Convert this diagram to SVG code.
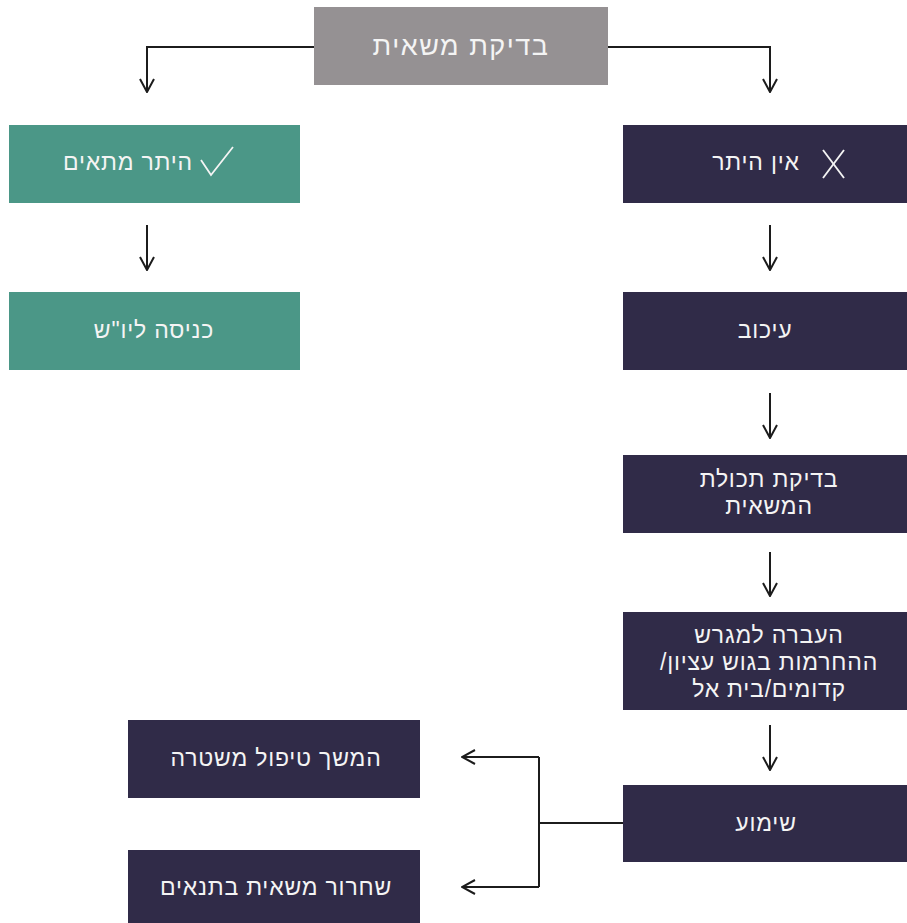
<svg xmlns="http://www.w3.org/2000/svg" width="907" height="923" viewBox="0 0 907 923">
<defs>
<style>
.gray{fill:#959193}
.teal{fill:#4b9787}
.dark{fill:#302b48}
.t{font-family:"Liberation Sans","DejaVu Sans",sans-serif;fill:#f4f4f4;text-anchor:middle;direction:rtl;font-size:23px;letter-spacing:0.8px}
.big{font-size:27px;letter-spacing:1.5px}
.c{fill:none;stroke:#1c1c1c;stroke-width:2}
.icon{fill:none;stroke:#f4f4f4;stroke-width:1.8}
</style>
<marker id="ah" viewBox="0 0 16 16" refX="15" refY="8" markerWidth="16" markerHeight="16" markerUnits="userSpaceOnUse" orient="auto">
<path d="M2,1 L15,8 L2,15" fill="none" stroke="#1c1c1c" stroke-width="2"/>
</marker>
</defs>
<rect width="907" height="923" fill="#ffffff"/>
<g id="connectors">
<polyline class="c" points="314,47 147,47 147,92" marker-end="url(#ah)"/>
<polyline class="c" points="608,47 770,47 770,92" marker-end="url(#ah)"/>
<line class="c" x1="147" y1="225" x2="147" y2="270" marker-end="url(#ah)"/>
<line class="c" x1="770" y1="225" x2="770" y2="270" marker-end="url(#ah)"/>
<line class="c" x1="770" y1="393" x2="770" y2="438" marker-end="url(#ah)"/>
<line class="c" x1="770" y1="552" x2="770" y2="596" marker-end="url(#ah)"/>
<line class="c" x1="770" y1="725" x2="770" y2="770" marker-end="url(#ah)"/>
<line class="c" x1="623" y1="823" x2="539" y2="823"/>
<polyline class="c" points="539,757 539,887"/>
<line class="c" x1="539" y1="757" x2="462" y2="757" marker-end="url(#ah)"/>
<line class="c" x1="539" y1="887" x2="462" y2="887" marker-end="url(#ah)"/>
</g>
<g id="n-check">
<rect class="gray" x="314" y="7" width="294" height="78"/>
<text class="t big" x="461" y="55">בדיקת משאית</text>
</g>
<g id="n-permit">
<rect class="teal" x="9" y="125" width="291" height="78"/>
<text class="t" x="128" y="170">היתר מתאים</text>
<polyline class="icon" points="201,160 211,175 233,147"/>
</g>
<g id="n-enter">
<rect class="teal" x="9" y="292" width="291" height="78"/>
<text class="t" x="154" y="338">כניסה ליו"ש</text>
</g>
<g id="n-nopermit">
<rect class="dark" x="623" y="125" width="284" height="78"/>
<text class="t" x="756" y="170">אין היתר</text>
<line class="icon" x1="823" y1="150" x2="844" y2="178"/>
<line class="icon" x1="844" y1="150" x2="823" y2="178"/>
</g>
<g id="n-delay">
<rect class="dark" x="623" y="292" width="284" height="78"/>
<text class="t" x="765" y="338">עיכוב</text>
</g>
<g id="n-cargo">
<rect class="dark" x="623" y="455" width="284" height="78"/>
<text class="t" x="769" y="487">בדיקת תכולת</text>
<text class="t" x="769" y="514">המשאית</text>
</g>
<g id="n-transfer">
<rect class="dark" x="623" y="612" width="284" height="98"/>
<text class="t" x="769" y="643">העברה למגרש</text>
<text class="t" x="769" y="670">ההחרמות בגוש עציון/</text>
<text class="t" x="769" y="697">קדומים/בית אל</text>
</g>
<g id="n-hearing">
<rect class="dark" x="623" y="785" width="284" height="77"/>
<text class="t" x="766" y="831">שימוע</text>
</g>
<g id="n-police">
<rect class="dark" x="128" y="720" width="292" height="78"/>
<text class="t" x="276" y="766">המשך טיפול משטרה</text>
</g>
<g id="n-release">
<rect class="dark" x="128" y="850" width="292" height="73"/>
<text class="t" x="276" y="895">שחרור משאית בתנאים</text>
</g>
</svg>
